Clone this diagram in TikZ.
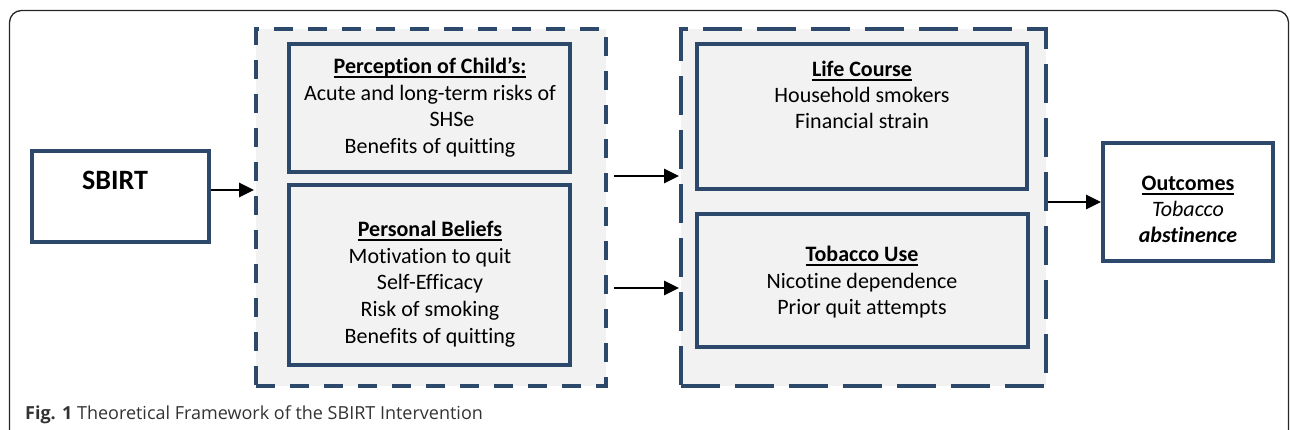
\documentclass[tikz,border=0pt]{standalone}
\usepackage{fontspec}
\setmainfont{Carlito}[Ligatures=CommonOff]
\newfontfamily\capfont{Open Sans}
\usetikzlibrary{arrows.meta}
\definecolor{boxblue}{HTML}{2C486A}
\definecolor{boxfill}{HTML}{F2F2F2}
\definecolor{capgray}{HTML}{333333}
\newcommand\myul[1]{\setbox0\hbox{#1}\rlap{\rule[-3.6pt]{\wd0}{1.5pt}}\box0}
\begin{document}
\begin{tikzpicture}[x=1pt,y=-1pt,
  box/.style={rectangle, draw=boxblue, line width=4pt, fill=boxfill, inner sep=0pt},
  whitebox/.style={box, fill=white},
  sdash/.style={box, dash pattern=on 19pt off 15pt},
  ldash/.style={box, dash pattern=on 39pt off 15pt},
  txt/.style={anchor=base, inner sep=0pt, font=\fontsize{22}{26}\selectfont},
  arr/.style={-{Triangle[length=15pt,width=14pt]}, line width=2.8pt, black}]
\useasboundingbox (0,0) rectangle (1290,430);
\clip (0,0) rectangle (1290,430);
% outer frame
\draw[line width=1.3pt, black!85, rounded corners=12pt] (9.5,445) -- (9.5,10.5) -- (1288.5,10.5) -- (1288.5,445);
% boxes
\node[whitebox, minimum width=177pt, minimum height=91pt] (sbirt) at (120.5,196.5) {};
\node[sdash, minimum width=350pt, minimum height=357pt] (lgroup) at (431,207.5) {};
\node[box, minimum width=281pt, minimum height=128pt] (perc) at (429.5,108) {};
\node[box, minimum width=281pt, minimum height=180pt] (pers) at (429.5,275) {};
\node[ldash, minimum width=365pt, minimum height=357pt] (rgroup) at (863.5,207.5) {};
\node[box, minimum width=330pt, minimum height=145pt] (life) at (862,116.5) {};
\node[box, minimum width=331pt, minimum height=133pt] (tob) at (862.5,280.5) {};
\node[whitebox, minimum width=170pt, minimum height=118pt] (outc) at (1188,202) {};
% texts
\node[txt, font=\fontsize{28}{32}\selectfont\bfseries] (sbirt-t) at (115,190) {SBIRT};
\node[txt] (perc-h) at (430,74) {\myul{\textbf{Perception of Child’s:}}};
\node[txt] (perc-1) at (430,100.5) {Acute and long-term risks of};
\node[txt] (perc-2) at (452,127) {SHSe};
\node[txt] (perc-3) at (430,153.5) {Benefits of quitting};
\node[txt] (pers-h) at (430,237) {\myul{\textbf{Personal Beliefs}}};
\node[txt] (pers-1) at (430,263.5) {Motivation to quit};
\node[txt] (pers-2) at (430,290) {Self-Efficacy};
\node[txt] (pers-3) at (430,316.5) {Risk of smoking};
\node[txt] (pers-4) at (430,343) {Benefits of quitting};
\node[txt] (life-h) at (862,77) {\myul{\textbf{Life Course}}};
\node[txt] (life-1) at (862,103) {Household smokers};
\node[txt] (life-2) at (862,129) {Financial strain};
\node[txt] (tob-h) at (862,262) {\myul{\textbf{Tobacco Use}}};
\node[txt] (tob-1) at (862,288) {Nicotine dependence};
\node[txt] (tob-2) at (862,314) {Prior quit attempts};
\node[txt] (outc-h) at (1188,191) {\myul{\textbf{Outcomes}}};
\node[txt] (outc-1) at (1188,217) {\textit{Tobacco}};
\node[txt] (outc-2) at (1188,243) {\textbf{\textit{abstinence}}};
% caption
\node[anchor=base west, inner sep=0pt, text=capgray, font=\capfont\fontsize{18}{21}\selectfont] (cap) at (25,419) {\textbf{Fig. 1} Theoretical Framework of the SBIRT Intervention};
% arrows
\draw[arr] ([yshift=6.5pt]sbirt.east) -- ([yshift=6.5pt]sbirt.east -| lgroup.west);
\draw[arr, shorten <=6pt] ([yshift=31.5pt]lgroup.east) -- ([yshift=31.5pt]lgroup.east -| rgroup.west);
\draw[arr, shorten <=6pt] ([yshift=-80.5pt]lgroup.east) -- ([yshift=-80.5pt]lgroup.east -| rgroup.west);
\draw[arr] (outc.west -| rgroup.east) -- (outc.west);
\end{tikzpicture}
\end{document}
